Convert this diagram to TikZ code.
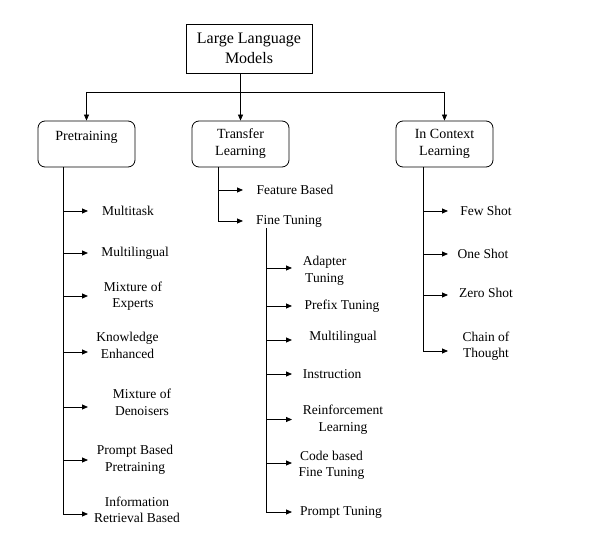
\documentclass[tikz,border=0pt]{standalone}
\usepackage{fontspec}
\setmainfont{Liberation Serif}
\usetikzlibrary{arrows.meta,positioning}

\begin{document}
\begin{tikzpicture}[x=1pt,y=-1pt,
    every path/.style={line width=0.8pt},
    arr/.style={-{Triangle[length=6pt,width=5pt]}},
    root/.style={draw, minimum width=126pt, minimum height=49pt, align=center, font=\fontsize{16}{20}\selectfont},
    topic/.style={draw, rounded corners=7pt, minimum width=97pt, minimum height=46pt, align=center, font=\fontsize{14}{17}\selectfont},
    item/.style={align=center, inner sep=1pt, font=\fontsize{13.5}{16.5}\selectfont}]
  \useasboundingbox (0,0) rectangle (589,537);

  \node[root] (llm) at (249,48.5) {Large Language\\Models};
  \node[topic] (pre) at (86.5,144) {Pretraining\\~};
  \node[topic] (tl) at (240.5,144) {Transfer\\Learning};
  \node[topic] (icl) at (444.5,144) {In Context\\Learning};

  % pretraining
  \node[item] (mtask) at (128,211) {Multitask};
  \node[item] (mling) at (135,253) {Multilingual};
  \node[item] (moe) at (133,296) {Mixture of\\Experts};
  \node[item] (know) at (127.5,345.5) {Knowledge\\Enhanced};
  \node[item] (mod) at (142,402.5) {Mixture of\\Denoisers};
  \node[item] (pbp) at (135,460) {Prompt Based\\Pretraining};
  \node[item] (irb) at (137,510) {Information\\Retrieval Based};

  % transfer learning
  \node[item] (feat) at (295,190) {Feature Based};
  \node[item] (ft) at (289,221) {Fine Tuning};
  \node[item] (adapt) at (324.5,271) {Adapter\\Tuning};
  \node[item] (prefix) at (342,306) {Prefix Tuning};
  \node[item] (mling2) at (343,337) {Multilingual};
  \node[item] (instr) at (332,374) {Instruction};
  \node[item] (rl) at (343,419.5) {Reinforcement\\Learning};
  \node[item] (code) at (331.5,465.5) {Code based\\Fine Tuning};
  \node[item] (ptune) at (341,512) {Prompt Tuning};

  % in context learning
  \node[item] (few) at (486,211) {Few Shot};
  \node[item] (one) at (483,254) {One Shot};
  \node[item] (zero) at (486,293) {Zero Shot};
  \node[item] (cot) at (486,346) {Chain of\\Thought};

  \coordinate (bus) at (0,92);
  \coordinate (pspine) at (63,0);  \coordinate (ptip) at (88,0);
  \coordinate (tspine) at (218,0); \coordinate (ttip) at (243,0);
  \coordinate (fspine) at (266,0); \coordinate (ftip) at (292,0);
  \coordinate (cspine) at (423,0); \coordinate (ctip) at (448,0);

  \draw (bus -| pre.north) -- (bus -| icl.north);
  \draw[arr] (bus -| pre.north) -- (pre.north);
  \draw[arr] (llm.south -| tl.north) -- (tl.north);
  \draw[arr] (bus -| icl.north) -- (icl.north);

  \draw[arr] (pre.south -| pspine) |- (ptip |- mtask);
  \draw[arr] (pre.south -| pspine) |- (ptip |- mling);
  \draw[arr] (pre.south -| pspine) |- (ptip |- moe);
  \draw[arr] (pre.south -| pspine) |- ([yshift=-6.5pt]ptip |- know);
  \draw[arr] (pre.south -| pspine) |- ([yshift=-4.5pt]ptip |- mod);
  \draw[arr] (pre.south -| pspine) |- (ptip |- pbp);
  \draw[arr] (pre.south -| pspine) |- ([yshift=-4pt]ptip |- irb);

  \draw[arr] (tl.south -| tspine) |- (ttip |- feat);
  \draw[arr] (tl.south -| tspine) |- (ttip |- ft);

  \draw[arr] (ft.south -| fspine) |- ([yshift=3pt]ftip |- adapt);
  \draw[arr] (ft.south -| fspine) |- (ftip |- prefix);
  \draw[arr] (ft.south -| fspine) |- ([yshift=-3pt]ftip |- mling2);
  \draw[arr] (ft.south -| fspine) |- (ftip |- instr);
  \draw[arr] (ft.south -| fspine) |- (ftip |- rl);
  \draw[arr] (ft.south -| fspine) |- ([yshift=2.5pt]ftip |- code);
  \draw[arr] (ft.south -| fspine) |- (ftip |- ptune);

  \draw[arr] (icl.south -| cspine) |- (ctip |- few);
  \draw[arr] (icl.south -| cspine) |- (ctip |- one);
  \draw[arr] (icl.south -| cspine) |- ([yshift=-2pt]ctip |- zero);
  \draw[arr] (icl.south -| cspine) |- ([yshift=-5pt]ctip |- cot);
\end{tikzpicture}
\end{document}
